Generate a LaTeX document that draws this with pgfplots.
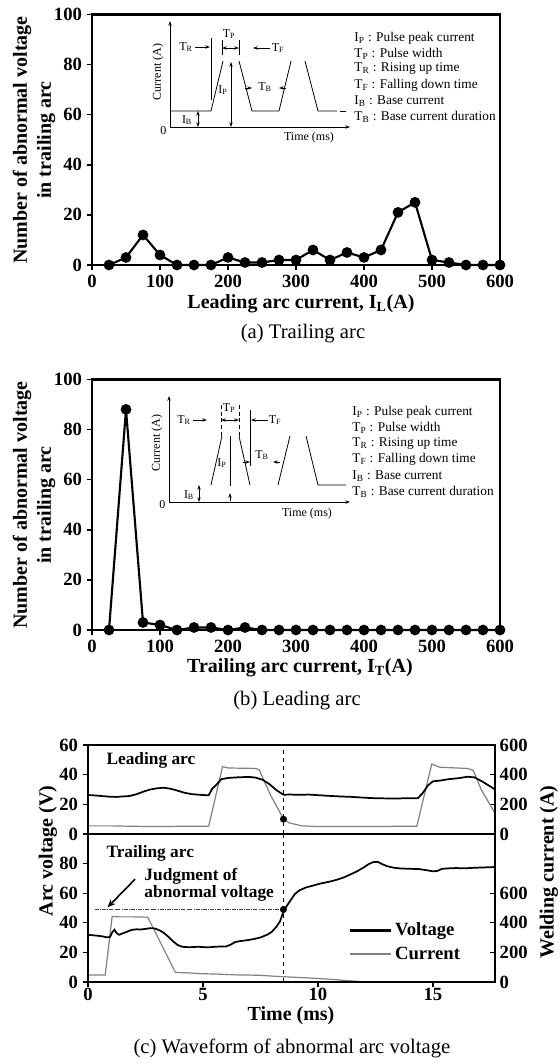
\documentclass[border=0pt]{standalone}
\usepackage{pgfplots}
\pgfplotsset{compat=1.18}
\usepackage{fontspec}
\setmainfont{Liberation Serif}
\usetikzlibrary{arrows.meta}

\newcommand\bigbf{\bfseries\fontsize{15}{18}\selectfont}
\newcommand\capfont{\fontsize{15.5}{18}\selectfont}

\pgfplotsset{
  panel/.style={
    scale only axis, clip=false,
    axis line style={line width=1.8pt},
    tick style={line width=1.2pt, black},
    major tick length=4pt, tick align=outside,
    xtick pos=bottom, ytick pos=left,
    tick label style={font=\bfseries\fontsize{14}{14}\selectfont},
    /pgf/number format/assume math mode=true,
  },
  counts/.style={
    panel, width=306pt, height=188pt,
    xmin=0, xmax=600, ymin=0, ymax=100,
    xtick={0,100,...,600}, ytick={0,20,...,100},
  },
  wave/.style={
    scale only axis, clip=false, width=305.25pt, xmin=0, xmax=17.7,
    axis line style={line width=1.3pt},
    tick style={line width=1pt, black},
    major tick length=4pt,
    tick label style={font=\bfseries\fontsize{14}{14}\selectfont},
    /pgf/number format/assume math mode=true,
  },
  dots/.style={black, line width=1.6pt, mark=*, mark size=3.2pt},
}

\begin{document}
\begin{tikzpicture}
\path[use as bounding box] (0pt,0pt) rectangle (420pt,-798pt);

% ---------- (a) trailing arc
\begin{axis}[counts, at={(69pt,-198.75pt)}, anchor=south west]
  \addplot[dots] coordinates {
    (25,0) (50,3) (75,12) (100,4) (125,0) (150,0) (175,0) (200,3)
    (225,1) (250,1) (275,2) (300,2) (325,6) (350,2) (375,5) (400,3)
    (425,6) (450,21) (475,25) (500,2) (525,1) (550,0) (575,0) (600,0)};
\end{axis}

% ---------- (b) leading arc
\begin{axis}[counts, at={(69pt,-472.5pt)}, anchor=south west]
  \addplot[dots] coordinates {
    (25,0) (50,88) (75,3) (100,2) (125,0) (150,1) (175,1) (200,0)
    (225,1) (250,0) (275,0) (300,0) (325,0) (350,0) (375,0) (400,0)
    (425,0) (450,0) (475,0) (500,0) (525,0) (550,0) (575,0) (600,0)};
\end{axis}

% ---------- (c) waveform, upper half (leading arc)
\begin{axis}[wave, at={(66pt,-625.5pt)}, anchor=south west, height=66.75pt,
  ymin=0, ymax=600, axis y line*=right, axis x line=none,
  ytick={0,200,400,600}, tick align=inside]
  \addplot[black!50, line width=0.9pt] coordinates {
    (0,55) (1,55) (2,52) (3,50) (4,52) (5.25,53) (5.85,455) (6.1,445)
    (7.3,442) (7.45,432) (7.93,265) (8.5,102) (8.75,75) (9.3,55) (10,50)
    (12,50) (14.3,53) (14.95,472) (15.3,450) (16.5,442) (16.75,430)
    (17.1,300) (17.7,140)};
  \addplot[only marks, mark=*, mark size=2.4pt, black] coordinates {(8.5,100)};
\end{axis}
\begin{axis}[wave, at={(66pt,-625.5pt)}, anchor=south west, height=66.75pt,
  ymin=0, ymax=60, ytick={0,20,40,60}, xtick=\empty, ytick pos=left,
  tick align=outside]
  \addplot[black, line width=1.3pt] coordinates {
    (0,26.3) (0.3,26.0) (0.6,25.6) (0.9,25.2) (1.2,25.0) (1.5,25.3)
    (1.8,25.6) (2.1,26.8) (2.4,28.5) (2.7,30.0) (3.0,30.8) (3.3,31.2)
    (3.6,30.5) (3.9,29.2) (4.2,27.8) (4.5,26.9) (4.8,26.5) (5.1,26.2)
    (5.25,26.2) (5.4,30.5) (5.6,33.5) (5.8,37.0) (6.1,37.8) (6.5,38.2)
    (7.0,38.5) (7.3,38.0) (7.6,36.5) (7.9,33.5) (8.2,29.5) (8.5,26.5)
    (8.8,26.6) (9.2,26.4) (9.6,26.6) (10.0,26.2) (10.5,25.7) (11.0,25.3)
    (11.5,25.0) (12.0,24.5) (12.5,24.1) (13.0,24.0) (13.5,24.0) (14.0,24.1)
    (14.35,24.2) (14.55,27.5) (14.8,33.0) (15.0,35.5) (15.3,36.0)
    (15.7,37.0) (16.1,37.6) (16.5,38.6) (16.8,38.2) (17.1,35.8)
    (17.4,33.0) (17.7,30.0)};
  \draw[dashed, line width=0.8pt] (axis cs:8.5,0) -- (axis cs:8.5,60);
  \node[anchor=west, font=\bfseries\fontsize{13}{13}\selectfont]
    at (axis cs:0.6,49.5) {Leading arc};
\end{axis}

% ---------- (c) waveform, lower half (trailing arc)
\begin{axis}[wave, at={(66pt,-736.5pt)}, anchor=south west, height=111pt,
  ymin=0, ymax=1000, axis y line*=right, axis x line=none,
  ytick={0,200,400,600}, tick align=inside]
  \addplot[black!50, line width=0.9pt] coordinates {
    (0,48) (0.75,48) (1.05,443) (1.4,440) (2.0,440) (2.6,438) (3.8,65)
    (4.3,62) (5.0,56) (5.5,54) (6,51) (6.5,48) (7,47) (7.5,45) (8,40)
    (8.5,36) (9,32) (9.5,28) (10,24) (10.5,19) (11,13) (11.5,7) (12.1,0)};
\end{axis}
\begin{axis}[wave, at={(66pt,-736.5pt)}, anchor=south west, height=111pt,
  ymin=0, ymax=100, ytick={0,20,40,60,80}, xtick={0,5,10,15},
  ytick pos=left, xtick pos=bottom, tick align=outside,
  xticklabel shift=-3pt,
  legend style={draw=none, fill=none, at={(axis cs:11.3,42)}, anchor=north west,
    font=\bfseries\fontsize{14}{14}\selectfont, row sep=3pt, inner sep=0pt},
  legend cell align=left,
  legend image code/.code={\draw[#1] (0pt,0pt) -- (31pt,0pt);}]
  \addplot[black, line width=1.3pt, forget plot] coordinates {
    (0,31.9) (0.2,31.6) (0.4,31.3) (0.6,30.9) (0.8,30.3) (0.95,30.2)
    (1.05,33.5) (1.15,35.3) (1.25,33.0) (1.35,31.9) (1.5,32.8) (1.7,34.0)
    (1.9,35.2) (2.1,35.6) (2.3,35.5) (2.5,35.9) (2.7,36.4) (2.9,36.2)
    (3.1,35.0) (3.3,33.2) (3.5,30.5) (3.7,27.5) (3.9,25.0) (4.1,23.8)
    (4.4,23.5) (4.8,23.8) (5.2,23.4) (5.6,23.9) (6.0,24.0) (6.2,25.2)
    (6.4,27.0) (6.6,27.6) (6.9,28.2) (7.2,29.0) (7.5,30.1) (7.8,32.0)
    (8.0,34.0) (8.2,37.5) (8.35,41.0) (8.5,47.5) (8.65,51.5) (8.8,55.0)
    (9.0,59.5) (9.2,62.0) (9.5,64.0) (9.8,65.2) (10.1,66.5) (10.5,67.8)
    (10.8,69.0) (11.1,70.5) (11.4,72.6) (11.7,74.8) (12.0,77.5) (12.2,79.6)
    (12.4,81.0) (12.6,81.2) (12.8,79.6) (13.0,78.3) (13.3,77.2) (13.6,76.7)
    (14.0,76.5) (14.4,76.3) (14.7,75.6) (15.0,74.8) (15.2,75.1) (15.4,76.5)
    (15.7,76.8) (16.0,77.0) (16.4,76.8) (16.8,77.2) (17.2,77.4) (17.7,77.7)};
  \addplot[only marks, mark=*, mark size=2.4pt, black, forget plot]
    coordinates {(8.5,49)};
  \addlegendimage{black, line width=2.2pt}\addlegendentry{Voltage}
  \addlegendimage{black!50, line width=1.6pt}\addlegendentry{Current}
  \draw[dashed, line width=0.8pt] (axis cs:8.5,0) -- (axis cs:8.5,100);
  \draw[densely dashdotted, black!75, line width=0.7pt]
    (axis cs:0.3,49) -- (axis cs:8.5,49);
  \draw[-{Stealth[length=6pt,width=5pt]}, line width=1.2pt]
    (axis cs:2.05,69.5) -- (axis cs:0.85,50.5);
  \node[anchor=west, font=\bfseries\fontsize{13}{13}\selectfont]
    at (axis cs:0.6,87) {Trailing arc};
  \node[anchor=west, align=left, font=\bfseries\fontsize{13}{12.5}\selectfont]
    at (axis cs:2.25,65.5) {Judgment of\\abnormal voltage};
\end{axis}

% ---------- titles, captions and the pulse sketches (pixel grid)
\begin{scope}[x=0.75pt, y=-0.75pt]
  \node[rotate=90, align=center, font=\bigbf] at (34,140)
    {Number of abnormal voltage\\in trailing arc};
  \node[font=\bigbf] at (301,304) {Leading arc current, I\textsubscript{L}(A)};
  \node[font=\capfont] at (303,334) {(a) Trailing arc};

  \node[rotate=90, align=center, font=\bigbf] at (34,505)
    {Number of abnormal voltage\\in trailing arc};
  \node[font=\bigbf] at (300,668) {Trailing arc current, I\textsubscript{T}(A)};
  \node[font=\capfont] at (297,701) {(b) Leading arc};

  \node[rotate=90, font=\bigbf] at (48,851) {Arc voltage (V)};
  \node[rotate=90, font=\bigbf] at (549,872) {Welding current (A)};
  \node[font=\bigbf] at (291,1016) {Time (ms)};
  \node[font=\capfont] at (292,1048) {(c) Waveform of abnormal arc voltage};

  \begin{scope}[line width=0.6pt, font=\fontsize{9}{10}\selectfont,
      >={Stealth[length=3.5pt,width=2.5pt]}]
    % sketch in (a)
    \draw[->] (170,127) -- (170,21);
    \draw[->] (170,127) -- (350,127);
    \node[anchor=east, inner sep=1pt] at (168,131) {0};
    \node[rotate=90] at (158,72) {Current (A)};
    \node at (309,138) {Time (ms)};
    \draw (170,111) -- (211,111) -- (223,61);
    \draw (239,61) -- (252,111) -- (279,111) -- (291,61);
    \draw (305,61) -- (318,111) -- (337,111);
    \draw (340,111) -- (346,111);
    \draw (211,38) -- (211,100);
    \draw (222,40) -- (222,55);
    \draw (239,40) -- (239,55);
    \node at (186,47) {T\textsubscript{R}};
    \draw[->] (195,47) -- (210,47);
    \node at (229,34) {T\textsubscript{P}};
    \draw[<->] (222,48) -- (239,48);
    \draw[->] (270,48) -- (253,48);
    \node at (278,48) {T\textsubscript{F}};
    \draw[<->] (231,62) -- (231,127);
    \node at (223,90) {I\textsubscript{P}};
    \draw[->] (245,88) -- (252,88);
    \node at (265,87) {T\textsubscript{B}};
    \draw[->] (286,88) -- (279,88);
    \draw[<->] (198,111) -- (198,127);
    \node at (187,120) {I\textsubscript{B}};
    \begin{scope}[font=\fontsize{10}{12}\selectfont]
      \node[anchor=west, inner sep=0pt] at (354,38) {I\textsubscript{P} : Pulse peak current};
      \node[anchor=west, inner sep=0pt] at (354,54) {T\textsubscript{P} : Pulse width};
      \node[anchor=west, inner sep=0pt] at (354,69) {T\textsubscript{R} : Rising up time};
      \node[anchor=west, inner sep=0pt] at (354,85) {T\textsubscript{F} : Falling down time};
      \node[anchor=west, inner sep=0pt] at (354,101) {I\textsubscript{B} : Base current};
      \node[anchor=west, inner sep=0pt] at (354,117) {T\textsubscript{B} : Base current duration};
    \end{scope}

    % sketch in (b)
    \draw[->] (169,502) -- (169,396);
    \draw[->] (169,502) -- (350,502);
    \node[anchor=east, inner sep=1pt] at (167,505) {0};
    \node[rotate=90] at (157,443) {Current (A)};
    \node at (307,514) {Time (ms)};
    \draw (211,485) -- (222,436);
    \draw (239,436) -- (250,485);
    \draw (278,485) -- (290,436);
    \draw (306,436) -- (318,485) -- (346,485);
    \draw (230,436) -- (230,486);
    \draw[densely dashed] (221,405) -- (221,436);
    \draw[densely dashed] (239,405) -- (239,436);
    \draw (250,410) -- (250,466);
    \node at (229,408) {T\textsubscript{P}};
    \draw[<->] (221,420) -- (239,420);
    \node at (184,420) {T\textsubscript{R}};
    \draw[->] (193,420) -- (207,420);
    \draw[->] (268,420) -- (251,420);
    \node at (275,420) {T\textsubscript{F}};
    \node at (222,463) {I\textsubscript{P}};
    \node at (262,455) {T\textsubscript{B}};
    \draw[->] (280,462) -- (273,462);
    \draw[->] (243,462) -- (250,462);
    \node at (189,495) {I\textsubscript{B}};
    \draw[<->] (199,485) -- (199,502);
    \draw[->] (230,501) -- (230,493);
    \begin{scope}[font=\fontsize{10}{12}\selectfont]
      \node[anchor=west, inner sep=0pt] at (352,412) {I\textsubscript{P} : Pulse peak current};
      \node[anchor=west, inner sep=0pt] at (352,428) {T\textsubscript{P} : Pulse width};
      \node[anchor=west, inner sep=0pt] at (352,444) {T\textsubscript{R} : Rising up time};
      \node[anchor=west, inner sep=0pt] at (352,459) {T\textsubscript{F} : Falling down time};
      \node[anchor=west, inner sep=0pt] at (352,476) {I\textsubscript{B} : Base current};
      \node[anchor=west, inner sep=0pt] at (352,492) {T\textsubscript{B} : Base current duration};
    \end{scope}
  \end{scope}
\end{scope}
\end{tikzpicture}
\end{document}
